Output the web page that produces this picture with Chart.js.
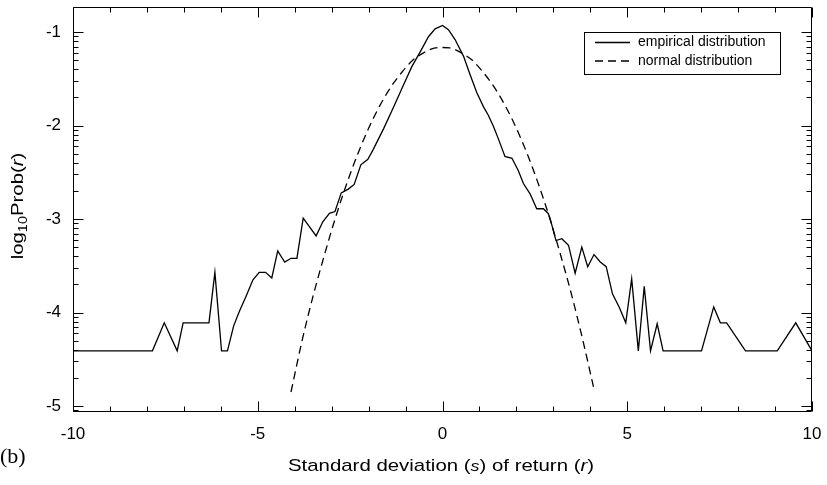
<!DOCTYPE html>
<html>
<head>
<meta charset="utf-8">
<script src="https://cdn.jsdelivr.net/npm/chart.js@4.4.1/dist/chart.umd.min.js"></script>
<style>
  html, body { margin: 0; padding: 0; background: #fff; }
  #wrap { width: 827px; height: 485px; position: relative; }
</style>
</head>
<body>
<div id="wrap"><canvas id="distChart"></canvas></div>
<script>
// empirical distribution: return in standard deviations vs log10 of probability
const empX = [-10, -7.85, -7.53, -7.18, -7.02, -6.32, -6.16, -5.98, -5.82, -5.65, -5.49, -5.31, -5.13,
  -4.96, -4.79, -4.62, -4.46, -4.27, -4.10, -3.94, -3.77, -3.42, -3.24, -3.06, -2.91, -2.74, -2.55,
  -2.39, -2.21, -2.02, -1.88, -1.59, -1.32, -1.05, -0.83, -0.60, -0.38, -0.20, 0, 0.16, 0.34, 0.57,
  0.75, 0.93, 1.11, 1.24, 1.38, 1.51, 1.69, 1.88, 2.05, 2.19, 2.37, 2.55, 2.73, 2.86, 2.91, 3.07,
  3.23, 3.41, 3.59, 3.77, 3.93, 4.10, 4.27, 4.43, 4.60, 4.78, 4.96, 5.12, 5.30, 5.46, 5.63, 5.81,
  5.97, 7.01, 7.34, 7.52, 7.69, 8.20, 9.06, 9.56, 10];
const empY = [-4.41, -4.41, -4.11, -4.41, -4.11, -4.11, -3.57, -4.41, -4.41, -4.14, -3.98, -3.82, -3.65,
  -3.57, -3.57, -3.63, -3.34, -3.46, -3.42, -3.42, -2.99, -3.18, -3.03, -2.94, -2.92, -2.72, -2.68,
  -2.63, -2.42, -2.36, -2.26, -2.03, -1.80, -1.56, -1.37, -1.21, -1.05, -0.965, -0.93, -0.975, -1.08, -1.26,
  -1.46, -1.65, -1.80, -1.89, -2.01, -2.14, -2.33, -2.35, -2.48, -2.62, -2.73, -2.89, -2.89, -2.94, -2.99, -3.23,
  -3.21, -3.28, -3.58, -3.30, -3.51, -3.38, -3.46, -3.51, -3.80, -3.94, -4.11, -3.64, -4.41, -3.72, -4.41, -4.12,
  -4.41, -4.41, -3.94, -4.11, -4.11, -4.41, -4.41, -4.11, -4.41];

// normal distribution for comparison
const normX = [-4.1, -3.8, -3.5, -3.2, -2.9, -2.6, -2.3, -2.0, -1.7, -1.4, -1.1, -0.8, -0.5, -0.2, 0,
  0.2, 0.5, 0.8, 1.1, 1.4, 1.7, 2.0, 2.3, 2.6, 2.9, 3.2, 3.5, 3.8, 4.1];
const normY = [-4.85, -4.30, -3.82, -3.39, -2.99, -2.63, -2.31, -2.03, -1.79, -1.59, -1.43, -1.30, -1.22, -1.17, -1.165,
  -1.17, -1.22, -1.30, -1.43, -1.59, -1.79, -2.03, -2.31, -2.63, -2.99, -3.39, -3.82, -4.30, -4.82];

const xTicks = [-10, -5, 0, 5, 10];
const yTicks = [-5, -4, -3, -2, -1];

const FONT = 'Liberation Sans, Arial, sans-serif';

// box around the plot with inward ticks on all four sides, log-style minor ticks on y
const frameTicks = {
  id: 'frameTicks',
  afterDatasetsDraw(chart) {
    const ctx = chart.ctx, a = chart.chartArea;
    const xs = chart.scales.x, ys = chart.scales.y;
    const L = a.left + 0.5, R = a.right - 0.5, T = a.top + 0.5, B = a.bottom - 0.5;
    ctx.save();
    ctx.strokeStyle = '#000';
    ctx.lineWidth = 1;
    ctx.beginPath();
    ctx.rect(L, T, R - L, B - T);
    for (let v = -10; v <= 10; v++) {
      const px = Math.round(xs.getPixelForValue(v)) + 0.5;
      const len = v % 5 === 0 ? 10 : 5;
      ctx.moveTo(px, B); ctx.lineTo(px, B - len);
      ctx.moveTo(px, T); ctx.lineTo(px, T + len);
    }
    for (let n = -6; n <= 0; n++) {
      for (let k = 1; k <= 9; k++) {
        const v = n + Math.log10(k);
        if (v < ys.min || v > ys.max) continue;
        const py = Math.round(ys.getPixelForValue(v)) + 0.5;
        const len = k === 1 ? 10 : 5;
        ctx.moveTo(L, py); ctx.lineTo(L + len, py);
        ctx.moveTo(R, py); ctx.lineTo(R - len, py);
      }
    }
    ctx.stroke();
    ctx.restore();
  }
};

// draws a run of text pieces with their own fonts, stretched sideways by sx
function drawRuns(ctx, runs, cx, baseY, sx) {
  let w = 0;
  runs.forEach(r => { ctx.font = r.font; w += ctx.measureText(r.text).width; });
  ctx.save();
  ctx.translate(cx - w * sx / 2, baseY);
  ctx.scale(sx, 1);
  let x = 0;
  runs.forEach(r => {
    ctx.font = r.font;
    ctx.fillText(r.text, x, r.dy || 0);
    x += ctx.measureText(r.text).width;
  });
  ctx.restore();
}

const titlesAndLegend = {
  id: 'titlesAndLegend',
  afterDraw(chart) {
    const ctx = chart.ctx;
    ctx.save();
    ctx.fillStyle = '#000';
    ctx.textBaseline = 'alphabetic';
    ctx.textAlign = 'left';

    // x axis title
    const reg = '17px ' + FONT, ital = 'italic 17px ' + FONT;
    drawRuns(ctx, [
      { text: 'Standard deviation (', font: reg },
      { text: 's', font: 'italic 15px ' + FONT },
      { text: ') of return (', font: reg },
      { text: 'r', font: ital },
      { text: ')', font: reg }
    ], 441, 471, 1.2);

    // y axis title
    ctx.save();
    ctx.translate(23, 206);
    ctx.rotate(-Math.PI / 2);
    drawRuns(ctx, [
      { text: 'log', font: reg },
      { text: '10', font: '12px ' + FONT, dy: 4 },
      { text: 'Prob(', font: reg },
      { text: 'r', font: ital },
      { text: ')', font: reg }
    ], 0, 0, 1.2);
    ctx.restore();

    // panel label
    ctx.font = '22px Liberation Serif, Times New Roman, serif';
    ctx.fillText('(b)', 0, 463);

    // legend box
    const bx = 584.5, by = 32.5, bw = 196, bh = 42;
    ctx.strokeStyle = '#000';
    ctx.lineWidth = 1;
    ctx.strokeRect(bx, by, bw, bh);
    ctx.font = '14px ' + FONT;
    chart.data.datasets.forEach((ds, i) => {
      const y = 42.5 + i * 18.5;
      ctx.save();
      ctx.lineWidth = ds.borderWidth;
      ctx.setLineDash(ds.borderDash || []);
      ctx.beginPath();
      ctx.moveTo(595, y);
      ctx.lineTo(630, y);
      ctx.stroke();
      ctx.restore();
      ctx.textBaseline = 'middle';
      ctx.fillText(ds.label, 638, y);
    });
    ctx.restore();
  }
};

// keep the plot area fixed: no extra room for overhanging tick labels
function fixBox(s, size) {
  if (s.isHorizontal()) s.height = size; else s.width = size;
  s.paddingTop = 0; s.paddingBottom = 0; s.paddingLeft = 0; s.paddingRight = 0;
}

new Chart(document.getElementById('distChart'), {
  type: 'line',
  data: {
    datasets: [
      {
        label: 'empirical distribution',
        data: empX.map((x, i) => ({ x: x, y: empY[i] })),
        borderColor: '#000',
        borderWidth: 1.3,
        pointRadius: 0,
        tension: 0,
        fill: false
      },
      {
        label: 'normal distribution',
        data: normX.map((x, i) => ({ x: x, y: normY[i] })),
        borderColor: '#000',
        borderWidth: 1.3,
        borderDash: [8, 5],
        pointRadius: 0,
        cubicInterpolationMode: 'monotone',
        fill: false
      }
    ]
  },
  options: {
    responsive: true,
    maintainAspectRatio: false,
    animation: false,
    devicePixelRatio: 1,
    layout: { padding: { top: 7, right: 15, left: 0, bottom: 0 } },
    plugins: { legend: { display: false }, tooltip: { enabled: false } },
    scales: {
      x: {
        type: 'linear',
        min: -10,
        max: 10,
        grid: { display: false, drawTicks: false },
        border: { display: false },
        afterBuildTicks: s => { s.ticks = xTicks.map(v => ({ value: v })); },
        afterFit: s => fixBox(s, 73),
        ticks: { color: '#000', font: { family: FONT, size: 17 }, padding: 12, maxRotation: 0, autoSkip: false }
      },
      y: {
        type: 'linear',
        min: -5.064,
        max: -0.732,
        grid: { display: false, drawTicks: false },
        border: { display: false },
        afterBuildTicks: s => { s.ticks = yTicks.map(v => ({ value: v })); },
        afterFit: s => fixBox(s, 73),
        ticks: { color: '#000', font: { family: FONT, size: 17 }, padding: 12, autoSkip: false }
      }
    }
  },
  plugins: [frameTicks, titlesAndLegend]
});
</script>
</body>
</html>
